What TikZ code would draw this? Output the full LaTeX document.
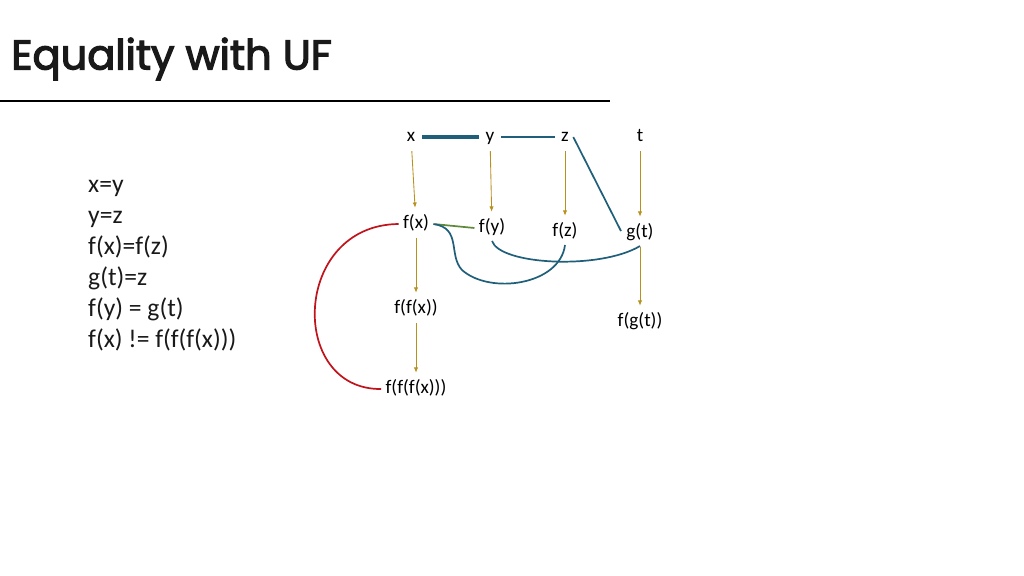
\documentclass[tikz,border=0pt]{standalone}
\usepackage{fontspec}
\setmainfont{Carlito}
\newfontfamily\titlefont[FakeBold=3]{Poppins}
\usetikzlibrary{arrows.meta}

\definecolor{ufteal}{HTML}{1F5F7A}
\definecolor{ufgold}{HTML}{B8901E}
\definecolor{ufgreen}{HTML}{5E8A3A}
\definecolor{ufred}{HTML}{C0131B}

\begin{document}
\begin{tikzpicture}[x=0.9375pt, y=-0.9375pt]

\tikzstyle{every node} = [inner sep=4pt, text height=12pt, text depth=4pt, font=\fontsize{18}{20}\selectfont]
\tikzstyle{fnarrow} = [ufgold, line width=0.8pt, -{Latex[length=5pt,width=4pt]}, shorten <=1pt, shorten >=3pt]
\tikzstyle{merge} = [ufteal, line width=1.6pt]

\useasboundingbox (0,0) rectangle (1024,576);

% title
\node[anchor=west, text height=, text depth=, inner sep=0pt, font=\titlefont\fontsize{39}{44}\selectfont, text=black!90] (title) at (11,59) {Equality with UF};
\draw[line width=2.2pt] (0,101) -- (610,101);

% constraints
\node[anchor=north west, text height=, text depth=, inner sep=0pt, align=left, font=\fontsize{24}{29}\selectfont, text=black!90] (eqs) at (88,180) {x=y\\y=z\\f(x)=f(z)\\g(t)=z\\f(y) = g(t)\\f(x) != f(f(f(x)))};

% terms
\node (x) at (411,137) {x};
\node (y) at (490,137) {y};
\node (z) at (565,137) {z};
\node (t) at (640,137) {t};

\node (fx) at (416,224) {f(x)};
\node (fy) at (492,228) {f(y)};
\node (fz) at (565,232) {f(z)};
\node (gt) at (640,233) {g(t)};

\node (ffx) at (416,309) {f(f(x))};
\node (fgt) at (640,322) {f(g(t))};
\node (fffx) at (416,389) {f(f(f(x)))};

% function edges
\draw[fnarrow] (x) -- (fx);
\draw[fnarrow] (y) -- (fy);
\draw[fnarrow] (z) -- (fz);
\draw[fnarrow] (t) -- (gt);
\draw[fnarrow] (fx) -- (ffx);
\draw[fnarrow] (ffx) -- (fffx);
\draw[fnarrow] (gt) -- (fgt);

% merges
\draw[ufteal, line width=4.5pt, shorten <=2pt, shorten >=2pt] (x) -- (y);
\draw[merge, shorten <=2pt, shorten >=2pt] (y) -- (z);
\draw[merge, shorten >=2pt] (z.east) -- (gt.west);
\draw[ufgreen, line width=1.6pt, shorten <=1pt] (fx.east) -- (fy.west);
\draw[merge] (fx.east) .. controls (462,228) and (448,255) .. (462,270)
  .. controls (490,295) and (560,285) .. (fz.south);
\draw[merge] (fy.south) .. controls (500,265) and (600,270) .. (gt.south);
\draw[ufred, line width=1.6pt] (fx.west) .. controls (292,225) and (288,390) .. (fffx.west);

\end{tikzpicture}
\end{document}
